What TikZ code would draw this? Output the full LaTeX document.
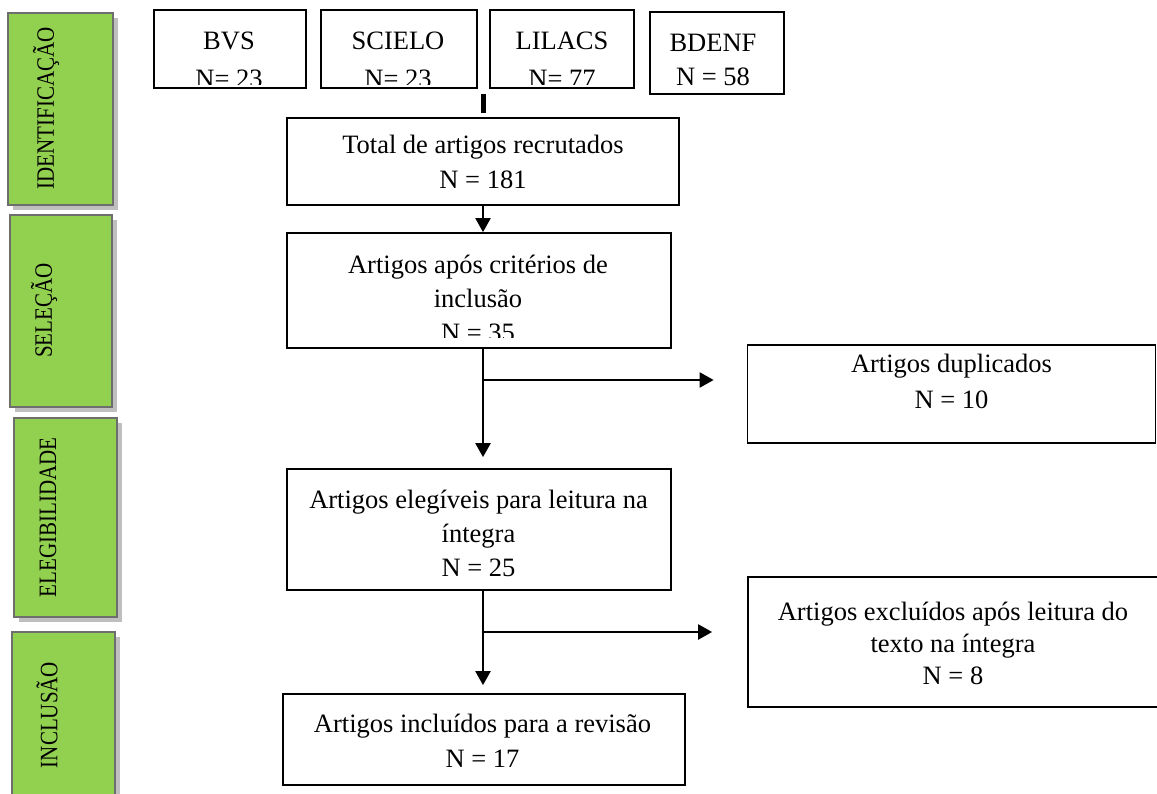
\documentclass[tikz,border=0pt]{standalone}
\usepackage{fontspec}
\setmainfont{Liberation Serif}
\usetikzlibrary{arrows.meta,shadows}
\definecolor{sidegreen}{HTML}{92D050}
\definecolor{sideedge}{HTML}{6E6E6E}
\definecolor{sideshadow}{HTML}{BFBFBF}
\tikzset{
  fbox/.style={draw=black, line width=1.7pt, fill=white, inner sep=0pt},
  txt/.style={inner sep=0pt, align=center, font=\fontsize{26.5}{#1}\selectfont},
  txt/.default=35,
  sidebox/.style={draw=sideedge, line width=2.8pt, fill=sidegreen, inner sep=0pt,
    drop shadow={shadow xshift=5pt, shadow yshift=-5pt, fill=sideshadow, opacity=1}},
  sidelabel/.style={inner sep=0pt, rotate=90, font=\fontsize{25}{28}\selectfont},
  flow/.style={line width=2.2pt, -{Triangle[length=14pt,width=15pt]}},
}
\begin{document}
\begin{tikzpicture}[x=1pt,y=-1pt]
\useasboundingbox (0,0) rectangle (1157,794);

% side phase boxes
\node[sidebox, minimum width=105pt, minimum height=192pt] (s1) at (60.5,109) {};
\node[sidelabel] (s1t) at (46,108.5) {\scalebox{0.84}[1]{IDENTIFICAÇÃO}};
\node[sidebox, minimum width=102pt, minimum height=192pt] (s2) at (61,311) {};
\node[sidelabel] (s2t) at (44,310.5) {\scalebox{0.84}[1]{SELEÇÃO}};
\node[sidebox, minimum width=103pt, minimum height=199pt] (s3) at (65.5,517.5) {};
\node[sidelabel] (s3t) at (48,517.5) {\scalebox{0.84}[1]{ELEGIBILIDADE}};
\node[sidebox, minimum width=103pt, minimum height=190pt] (s4) at (63.5,727) {};
\node[sidelabel] (s4t) at (47,715) {\scalebox{0.84}[1]{INCLUSÃO}};

% database boxes
\node[fbox, minimum width=152pt, minimum height=78pt] (bvs) at (230,49) {};
\node[fbox, minimum width=156pt, minimum height=78pt] (sci) at (399,49) {};
\node[fbox, minimum width=144pt, minimum height=78pt] (lil) at (562,49) {};
\node[fbox, minimum width=134pt, minimum height=82pt] (bde) at (717,53) {};
\begin{scope}
  \clip (150,10) rectangle (640,85);
  \node[txt=38] (bvst) at (229,60) {BVS\\N= 23};
  \node[txt=38] (scit) at (398,60) {SCIELO\\N= 23};
  \node[txt=38] (lilt) at (562,60) {LILACS\\N= 77};
\end{scope}
\node[txt=34] (bdet) at (713,60) {BDENF\\N = 58};

% stub under the databases
\coordinate (stubtop) at (483,94);
\coordinate (stubbot) at (483,113);
\draw[line width=5pt] (stubtop) -- (stubbot);

% main flow boxes
\node[fbox, minimum width=392pt, minimum height=87pt] (total) at (483,161.5) {};
\node[txt=35] (totalt) at (483,161.5) {Total de artigos recrutados\\N = 181};

\node[fbox, minimum width=384pt, minimum height=115pt] (apos) at (479,290.5) {};
\begin{scope}
  \clip (288,234) rectangle (670,338);
  \node[txt=34] (apost) at (478,298) {Artigos após critérios de\\inclusão\\N = 35};
\end{scope}

\node[fbox, minimum width=408pt, minimum height=98pt] (dup) at (951.5,394) {};
\node[txt=36] (dupt) at (951.5,381) {Artigos duplicados\\N = 10};

\node[fbox, minimum width=384pt, minimum height=121pt] (eleg) at (479,529.5) {};
\node[txt=34] (elegt) at (478.5,533) {Artigos elegíveis para leitura na\\íntegra\\N = 25};

\node[fbox, minimum width=414pt, minimum height=130pt] (excl) at (955,642) {};
\node[txt=32] (exclt) at (953,643) {Artigos excluídos após leitura do\\texto na íntegra\\N = 8};

\node[fbox, minimum width=402pt, minimum height=91pt] (incl) at (484,739.5) {};
\node[txt=35] (inclt) at (482.5,740.5) {Artigos incluídos para a revisão\\N = 17};

% connectors (common vertical spine at x = 483)
\draw[flow] (total.south) -- (total.south |- apos.north);
\draw[flow] (total.south |- apos.south) -- ([yshift=11pt]total.south |- eleg.north);
\coordinate (b1) at (483,380);
\draw[flow] (b1) -- ([xshift=-33pt]dup.west |- b1);
\draw[flow] (total.south |- eleg.south) -- ([yshift=8pt]total.south |- incl.north);
\coordinate (b2) at (483,632);
\draw[flow] (b2) -- ([xshift=-35pt]excl.west |- b2);
\end{tikzpicture}
\end{document}
